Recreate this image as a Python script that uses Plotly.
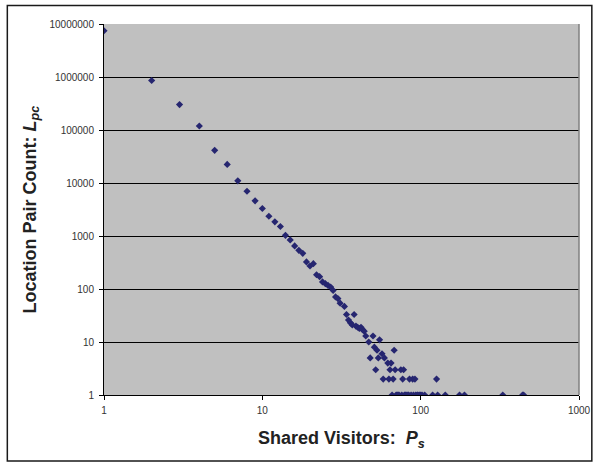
import plotly.graph_objects as go

# Shared visitors (x) and location pair counts (y)
shared_visitors = [1, 2, 3, 4, 5, 6, 7, 8, 9, 10, 11, 12, 13, 14, 15, 16, 17, 18, 19, 20,
                   21, 22, 23, 24, 25, 26, 27, 28, 29, 30, 31, 33, 34, 35, 36, 37, 38, 39, 40,
                   41, 42, 43, 44, 45, 47, 48, 50, 51, 52, 53, 54, 55, 57, 58, 59, 62, 63, 64,
                   65, 66, 67, 68, 69, 70, 71, 72, 73, 75, 76, 77, 78, 79, 80, 81, 83, 84, 85,
                   87, 89, 90, 92, 93, 95, 96, 98, 100, 102, 106, 119, 126, 128, 143, 176, 189,
                   330, 440, 447]
pair_counts = [7460000, 860000, 302000, 119000, 41300, 22400, 11000, 7000, 4600, 3300,
               2360, 1850, 1510, 1030, 845, 650, 537, 471, 324, 272,
               301, 186, 171, 136, 126, 117, 109, 94, 71, 66, 54, 47, 33, 26, 23, 21, 33, 20, 19,
               18, 19, 17, 16, 13, 10, 5, 13, 8, 3, 7, 5, 11, 6, 2, 5, 4, 2, 3,
               4, 1, 2, 7, 3, 1, 1, 1, 1, 3, 1, 2, 3, 1, 1, 1, 1, 1, 2,
               1, 2, 1, 2, 1, 1, 1, 1, 1, 1, 1, 1, 2, 1, 1, 1, 1,
               1, 1, 1]

x_ticks = [1, 10, 100, 1000]
x_ticktext = ["1", "10", "100", "1000"]
y_ticks = [1, 10, 100, 1000, 10000, 100000, 1000000, 10000000]
y_ticktext = ["1", "10", "100", "1000", "10000", "100000", "1000000", "10000000"]

W, H = 603, 464
L, R, T, B = 103.5, 585, 24, 395

fig = go.Figure()
fig.add_trace(go.Scatter(
    x=shared_visitors, y=pair_counts, mode="markers",
    marker=dict(symbol="diamond", size=5.5, color="#262670", line=dict(width=0)),
    showlegend=False, hoverinfo="x+y"))

def px_x(p):
    return (p - L) / (R - L)

def px_y(p):
    return (B - p) / (B - T)

font_family = "Liberation Sans, Arial, sans-serif"

fig.update_layout(
    width=W, height=H,
    margin=dict(l=L, r=W - R, t=T, b=H - B, pad=0),
    paper_bgcolor="white", plot_bgcolor="#C0C0C0",
    font=dict(family=font_family, size=10, color="#333333"),
    xaxis=dict(type="log", range=[0, 3], tickvals=x_ticks, ticktext=x_ticktext,
               showgrid=False, zeroline=False, showline=True, linecolor="#000000", linewidth=1,
               ticks="outside", ticklen=4, tickcolor="#000000", tickwidth=1,
               tickfont=dict(size=10, color="#333333"), ticklabelstandoff=2),
    yaxis=dict(type="log", range=[0, 7], tickvals=y_ticks, ticktext=y_ticktext,
               showgrid=True, gridcolor="#000000", gridwidth=1, zeroline=False,
               showline=True, linecolor="#000000", linewidth=1,
               ticks="outside", ticklen=4, tickcolor="#000000", tickwidth=1,
               tickfont=dict(size=10, color="#333333"), ticklabelstandoff=3),
    shapes=[
        # plot area border (right side gray)
        dict(type="line", xref="paper", yref="paper", x0=1, x1=1, y0=0, y1=1,
             line=dict(color="#808080", width=1.5)),
        # chart area border
        dict(type="rect", xref="paper", yref="paper",
             x0=px_x(5.5), x1=px_x(598), y0=px_y(461), y1=px_y(5.5),
             line=dict(color="#1a1a1a", width=1.5), layer="above"),
    ],
    annotations=[
        dict(text="<b>Shared Visitors:&nbsp;&nbsp;<i>P</i><sub><i>s</i></sub></b>",
             xref="paper", yref="paper", x=px_x(344), y=px_y(439),
             xanchor="center", yanchor="middle", showarrow=False,
             font=dict(size=18, color="#222222", family=font_family)),
        dict(text="<b>Location Pair Count: <i>L</i><sub><i>pc</i></sub></b>",
             xref="paper", yref="paper", x=px_x(29), y=px_y(210),
             xanchor="center", yanchor="middle", showarrow=False, textangle=-90,
             font=dict(size=18, color="#222222", family=font_family)),
    ],
)

fig.write_html("out.html")
